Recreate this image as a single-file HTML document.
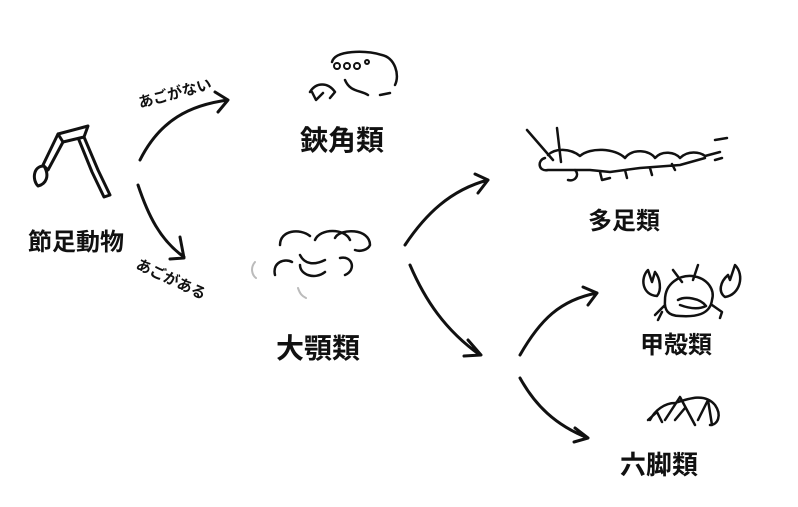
<!DOCTYPE html>
<html><head><meta charset="utf-8"><style>
html,body{margin:0;padding:0;background:#fff;width:798px;height:507px;overflow:hidden}
svg{display:block}
text{font-family:"Liberation Sans","Noto Sans CJK JP",sans-serif;fill:#111;font-weight:bold}
</style></head><body>
<svg width="798" height="507" viewBox="0 0 798 507" fill="none" stroke="#111" stroke-width="3" stroke-linecap="round" stroke-linejoin="round">
<!-- arthropod leg -->
<path d="M58 134 L88 126 L84 137 L63 142 Z M58 134 L43 165 L48 170 L63 142 M84 137 L98 170 L110 195 L104 197 L92 172 L79 140 M44 166 C33 166 32 180 38 186 C46 184 50 176 44 166"/>
<!-- arrows -->
<path d="M140 160 C160 120 190 105 228 100 M215 92 L228 100 L218 112"/>
<path d="M138 185 C148 215 160 240 184 257 M180 237 L184 258 L170 259"/>
<path d="M405 245 C425 215 450 190 488 180 M475 174 L488 180 L478 193"/>
<path d="M410 265 C425 300 445 330 480 355 M468 340 L481 355 L464 356"/>
<path d="M520 355 C540 320 560 300 597 293 M583 287 L597 293 L588 305"/>
<path d="M520 378 C535 405 555 425 588 438 M575 428 L588 438 L574 442"/>
<!-- chelicerata -->
<path d="M332 62 C335 50 365 50 382 55 C395 58 400 75 395 85 M390 93 L380 95 M345 80 C350 92 360 90 368 95 M310 92 C316 82 328 82 335 92 L330 98 M312 92 L316 100 L323 93" stroke-width="2.5"/>
<circle cx="337" cy="66" r="3" stroke-width="2"/><circle cx="347" cy="66" r="3" stroke-width="2"/><circle cx="357" cy="66" r="3" stroke-width="2"/><circle cx="367" cy="62" r="2" stroke-width="2"/>
<!-- mandibulata head -->
<path d="M280 245 C280 230 300 228 310 236 M315 240 C320 228 345 228 350 240 M335 238 C340 228 370 228 370 245 C368 250 360 252 355 250 M275 275 C272 262 285 258 292 262 M300 255 C305 265 315 265 325 260 M340 258 C352 255 357 270 345 275 M300 265 C300 275 315 280 325 272" stroke-width="2.5"/>
<path d="M255 262 C250 268 252 275 256 278 M298 288 C300 294 302 296 306 298" stroke="#bbb" stroke-width="2"/>
<!-- myriapod -->
<path d="M527 130 L553 160 M557 128 L561 162 M548 155 C555 148 570 148 580 156 C590 147 615 148 625 158 C632 148 650 150 655 158 C662 150 675 152 680 158 C688 150 700 152 705 156 L720 152 M715 140 L727 138 M715 160 L722 158 M545 158 C537 160 538 172 548 170 M575 170 C580 175 575 182 568 180 M548 170 L590 170 L610 172 L640 168 L680 165 L705 158 M600 172 L602 180 L610 178 M625 170 L627 178 M650 168 L652 175 M672 164 L675 170" stroke-width="2.5"/>
<!-- crab -->
<path d="M665 300 C665 283 680 275 692 276 C708 278 715 290 712 300 C710 315 695 317 680 316 C668 316 664 310 665 300 M648 270 C640 278 642 295 657 296 C662 290 660 278 655 272 L652 282 Z M735 265 C745 275 740 295 725 297 C718 292 720 282 728 275 L730 280 Z M673 270 L682 282 M698 265 L693 280 M678 300 C685 296 700 298 706 306 C698 310 688 308 680 305 M665 305 L655 315 M712 305 L722 312 L720 318 M662 312 L658 320" stroke-width="2.5"/>
<!-- hexapod -->
<path d="M650 420 C655 410 665 403 675 403 C690 398 705 393 715 405 C722 415 718 425 710 425 M665 420 L680 397 L695 425 M675 420 L685 408 M698 420 L708 400 L712 425 M648 420 L657 412 L662 422" stroke-width="2.5"/>
</svg>
<svg style="position:absolute;left:0;top:0" width="798" height="507">
<text x="28" y="250" font-size="24">節足動物</text>
<text x="140" y="108" font-size="15" transform="rotate(-15 140 108)">あごがない</text>
<text x="135" y="268" font-size="15" transform="rotate(25 135 268)">あごがある</text>
<text x="300" y="150" font-size="28">鋏角類</text>
<text x="276" y="358" font-size="28">大顎類</text>
<text x="588" y="229" font-size="24">多足類</text>
<text x="640" y="353" font-size="24">甲殻類</text>
<text x="620" y="474" font-size="26">六脚類</text>
</svg>
</body></html>
